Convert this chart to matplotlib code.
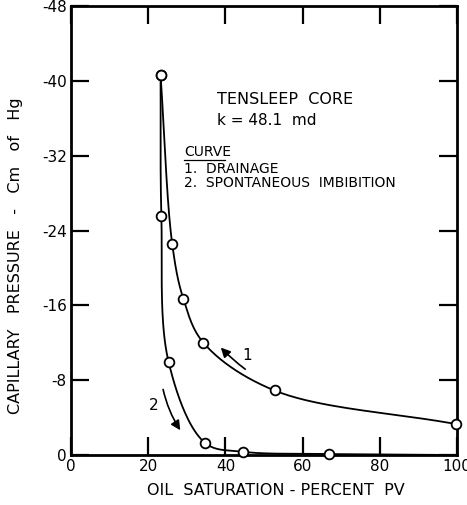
import numpy as np
import matplotlib
matplotlib.use("Agg")
import matplotlib.pyplot as plt
from matplotlib.patches import FancyArrowPatch

plt.rcParams['axes.unicode_minus'] = False
plt.rcParams['font.family'] = ['DejaVu Sans']

# Data (oil saturation %, capillary pressure cm Hg)
drain_x = [23.2, 26.2, 29.1, 34.3, 52.7, 99.8]
drain_y = [-40.6, -22.6, -16.7, -12.0, -6.9, -3.3]

imb_x = [23.2, 23.4, 25.3, 34.7, 44.5, 66.8]
imb_y = [-40.6, -25.6, -9.9, -1.3, -0.35, -0.1]

x_ticks = [0, 20, 40, 60, 80, 100]
y_ticks = [0, -8, -16, -24, -32, -40, -48]


def smooth(xs, ys, xr=100.0, yr=48.0, asp=1.17, n=40):
    """Centripetal Catmull-Rom through the points, in normalised units."""
    P = np.column_stack([np.asarray(xs) / xr, np.asarray(ys) / yr * asp])
    P = np.vstack([2 * P[0] - P[1], P, 2 * P[-1] - P[-2]])
    out = []
    for i in range(1, len(P) - 2):
        p0, p1, p2, p3 = P[i - 1], P[i], P[i + 1], P[i + 2]
        def tj(ti, a, b):
            return ti + np.linalg.norm(b - a) ** 0.5 + 1e-9
        t0 = 0.0
        t1 = tj(t0, p0, p1)
        t2 = tj(t1, p1, p2)
        t3 = tj(t2, p2, p3)
        t = np.linspace(t1, t2, n)[:, None]
        A1 = (t1 - t) / (t1 - t0) * p0 + (t - t0) / (t1 - t0) * p1
        A2 = (t2 - t) / (t2 - t1) * p1 + (t - t1) / (t2 - t1) * p2
        A3 = (t3 - t) / (t3 - t2) * p2 + (t - t2) / (t3 - t2) * p3
        B1 = (t2 - t) / (t2 - t0) * A1 + (t - t0) / (t2 - t0) * A2
        B2 = (t3 - t) / (t3 - t1) * A2 + (t - t1) / (t3 - t1) * A3
        C = (t2 - t) / (t2 - t1) * B1 + (t - t1) / (t2 - t1) * B2
        out.append(C)
    C = np.vstack(out)
    return C[:, 0] * xr, C[:, 1] * yr / asp


fig = plt.figure(figsize=(4.67, 5.05), dpi=100)
ax = fig.add_axes([0.152, 0.099, 0.827, 0.889])

sx, sy = smooth(drain_x, drain_y)
ax.plot(sx, sy, color='black', lw=1.3, zorder=2)
sx, sy = smooth(imb_x, imb_y)
ax.plot(sx, sy, color='black', lw=1.3, zorder=2)
ax.plot([imb_x[-1], 100], [imb_y[-1], 0], color='black', lw=1.3, zorder=2)

ax.plot(drain_x, drain_y, 'o', ms=7, mfc='white', mec='black', mew=1.3, zorder=3, clip_on=False)
ax.plot(imb_x, imb_y, 'o', ms=7, mfc='white', mec='black', mew=1.3, zorder=3, clip_on=False)

ax.set_xlim(0, 100)
ax.set_ylim(0, -48)
ax.set_xticks(x_ticks)
ax.set_yticks(y_ticks)
ax.set_xticklabels([str(v) for v in x_ticks])
ax.set_yticklabels([str(v) for v in y_ticks])
ax.tick_params(direction='in', length=13, width=1.6, top=True, right=True,
               labelsize=11, pad=3)
for s in ax.spines.values():
    s.set_linewidth(2)

ax.set_xlabel('OIL  SATURATION - PERCENT  PV', fontsize=11.5)
ax.xaxis.set_label_coords(0.53, -0.062)
ax.set_ylabel('CAPILLARY   PRESSURE   -   Cm   of   Hg', fontsize=11.5)
ax.yaxis.set_label_coords(-0.125, 0.445)

ax.text(37.8, -38.0, 'TENSLEEP  CORE', fontsize=11.5, va='center')
ax.text(37.8, -35.8, 'k = 48.1  md', fontsize=11, va='center')
ax.text(29.3, -32.4, 'CURVE', fontsize=10, va='center')
ax.plot([29.3, 39.8], [-31.5, -31.5], color='black', lw=0.9)
ax.text(29.3, -30.6, '1.  DRAINAGE', fontsize=10, va='center')
ax.text(29.3, -29.1, '2.  SPONTANEOUS  IMBIBITION', fontsize=10, va='center')

ax.add_patch(FancyArrowPatch((45.7, -9.0), (38.3, -11.7), arrowstyle='-|>',
                             mutation_scale=14, color='black', lw=1.2,
                             connectionstyle='arc3,rad=-0.05'))
ax.text(45.6, -10.6, '1', fontsize=11, ha='center', va='center')
ax.add_patch(FancyArrowPatch((23.7, -7.3), (28.7, -2.4), arrowstyle='-|>',
                             mutation_scale=14, color='black', lw=1.2,
                             connectionstyle='arc3,rad=0.1'))
ax.text(21.4, -5.3, '2', fontsize=11, ha='center', va='center')

fig.savefig('out.png', dpi=100)
